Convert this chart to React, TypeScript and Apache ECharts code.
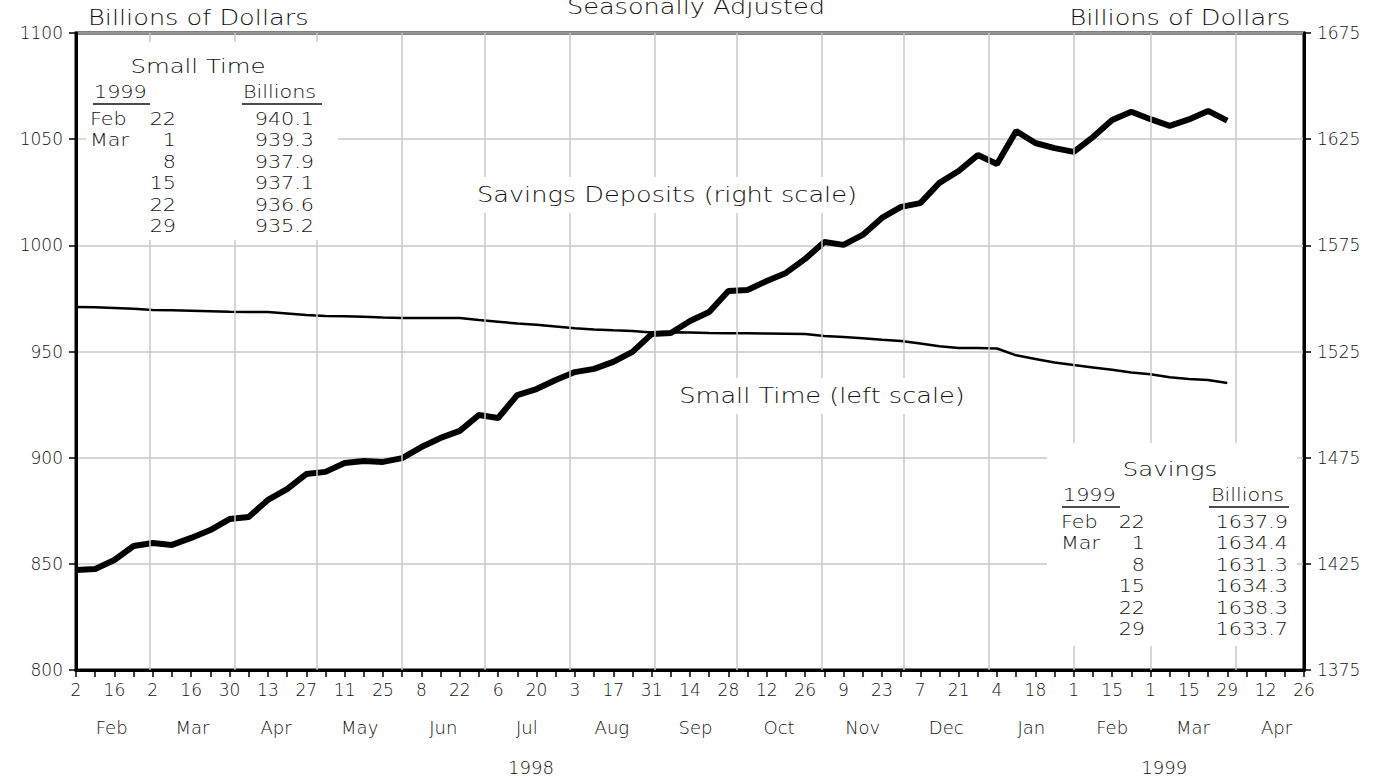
import React, { useEffect, useRef } from "react";
import * as echarts from "echarts";

const START = Date.UTC(1998, 1, 2);
const DAY = 86400000;
const SPAN_DAYS = 448;

// Weekly values, week of Feb 2 1998 through week of Mar 29 1999
const savingsDeposits = [
  1422.1, 1422.6, 1426.8, 1433.4, 1434.8, 1433.9, 1437.2, 1440.9, 1446.1, 1447.1,
  1455.1, 1460.2, 1467.3, 1468.3, 1472.5, 1473.4, 1473.0, 1474.8, 1480.0, 1484.3,
  1487.6, 1495.1, 1493.7, 1504.5, 1507.3, 1511.6, 1515.3, 1516.8, 1520.1, 1524.8,
  1533.2, 1533.7, 1539.4, 1543.6, 1553.5, 1554.0, 1558.2, 1562.0, 1568.6, 1576.6,
  1575.2, 1579.9, 1587.9, 1593.1, 1594.9, 1604.4, 1610.0, 1617.5, 1613.3, 1628.8,
  1623.2, 1620.8, 1619.0, 1626.0, 1634.0, 1637.9, 1634.4, 1631.3, 1634.3, 1638.3,
  1633.7,
];
const smallTime = [
  971.0, 970.8, 970.5, 970.1, 969.5, 969.4, 969.2, 969.0, 968.7, 968.6,
  968.6, 967.9, 967.2, 966.7, 966.6, 966.4, 966.0, 965.8, 965.8, 965.8,
  965.8, 964.8, 964.0, 963.2, 962.6, 961.8, 961.0, 960.4, 960.0, 959.7,
  958.9, 959.1, 958.9, 958.7, 958.6, 958.6, 958.5, 958.4, 958.2, 957.3,
  956.8, 956.2, 955.5, 954.9, 953.8, 952.5, 951.7, 951.7, 951.4, 948.2,
  946.5, 944.8, 943.6, 942.5, 941.4, 940.1, 939.3, 937.9, 937.1, 936.6,
  935.2,
];

const monthNames = ["Feb", "Mar", "Apr", "May", "Jun", "Jul", "Aug", "Sep", "Oct", "Nov", "Dec", "Jan", "Feb", "Mar", "Apr"];
const monthYM: [number, number][] = [
  [1998, 1], [1998, 2], [1998, 3], [1998, 4], [1998, 5], [1998, 6], [1998, 7], [1998, 8],
  [1998, 9], [1998, 10], [1998, 11], [1999, 0], [1999, 1], [1999, 2], [1999, 3], [1999, 4],
];
const yearLabels = ["1998", "1999"];
const yearCenterDays = [166, 397];

const leftTicks = [800, 850, 900, 950, 1000, 1050, 1100];
const rightTicks = [1375, 1425, 1475, 1525, 1575, 1625, 1675];

const tableMonths = ["Feb", "Mar", "", "", "", ""];
const tableDays = ["22", "1", "8", "15", "22", "29"];
const smallTimeTable = ["940.1", "939.3", "937.9", "937.1", "936.6", "935.2"];
const savingsTable = ["1637.9", "1634.4", "1631.3", "1634.3", "1638.3", "1633.7"];

const dayOf = (y: number, m: number) => (Date.UTC(y, m, 1) - START) / DAY;
const monthStarts = monthYM.map(([y, m]) => dayOf(y, m));
const monthMids = monthStarts.slice(0, -1).map((d, i) => (d + monthStarts[i + 1]) / 2);
const gridMonthStarts = monthStarts.filter((d) => d > 0 && d < SPAN_DAYS);

const TICK_FONT = '"DejaVu Sans", sans-serif';
const TEXT_FONT = '"DejaVu Sans", sans-serif';
const TEXT_W = 200;
const INK = "#111";
const GRID = "#c8c8c8";
const WIDE = 1.22;

function nearestIndex(arr: number[], v: number) {
  let best = 0;
  for (let i = 1; i < arr.length; i++) if (Math.abs(arr[i] - v) < Math.abs(arr[best] - v)) best = i;
  return best;
}

function txt(text: string, x: number, y: number, align: string, size: number, sx = WIDE) {
  return {
    type: "text",
    x,
    y,
    z: 60,
    scaleX: sx,
    silent: true,
    style: {
      text,
      fill: INK,
      fontFamily: TEXT_FONT,
      fontWeight: TEXT_W,
      fontSize: size,
      align,
      verticalAlign: "middle",
      textAlign: align,
      textVerticalAlign: "middle",
    },
  };
}
function ul(x1: number, x2: number, y: number) {
  return { type: "line", z: 60, silent: true, shape: { x1, y1: y, x2, y2: y }, style: { stroke: INK, lineWidth: 1.5 } };
}
function box(x: number, y: number, width: number, height: number) {
  return { type: "rect", z: 50, silent: true, shape: { x, y, width, height }, style: { fill: "#fff" } };
}

function buildGraphic() {
  const g: any[] = [];
  g.push(txt("Seasonally Adjusted", 696, 7, "center", 21));
  g.push(txt("Billions of Dollars", 88, 18, "left", 21));
  g.push(txt("Billions of Dollars", 1290, 18, "right", 21));

  // Small time table
  g.push(box(86, 42, 252, 198));
  g.push(txt("Small Time", 198, 66, "center", 20));
  g.push(txt("1999", 94, 92, "left", 18, 1.15));
  g.push(ul(93, 150, 104));
  g.push(txt("Billions", 243, 92, "left", 18, 1.15));
  g.push(ul(242, 322, 104));
  const rows1 = [119, 140, 162, 183, 205, 226];
  rows1.forEach((y, i) => {
    if (tableMonths[i]) g.push(txt(tableMonths[i], 90, y, "left", 18, 1.15));
    g.push(txt(tableDays[i], 176, y, "right", 18, 1.15));
    g.push(txt(smallTimeTable[i], 314, y, "right", 18, 1.15));
  });

  // Savings table
  g.push(box(1047, 443, 250, 203));
  g.push(txt("Savings", 1170, 469, "center", 20));
  g.push(txt("1999", 1063, 495, "left", 18, 1.15));
  g.push(ul(1062, 1120, 507));
  g.push(txt("Billions", 1211, 495, "left", 18, 1.15));
  g.push(ul(1209, 1289, 507));
  const rows2 = [522, 543, 565, 586, 608, 629];
  rows2.forEach((y, i) => {
    if (tableMonths[i]) g.push(txt(tableMonths[i], 1061, y, "left", 18, 1.15));
    g.push(txt(tableDays[i], 1145, y, "right", 18, 1.15));
    g.push(txt(savingsTable[i], 1288, y, "right", 18, 1.15));
  });

  // Series labels
  g.push(box(468, 177, 400, 36));
  g.push(txt("Savings Deposits (right scale)", 667, 195, "center", 21));
  g.push(box(668, 378, 308, 36));
  g.push(txt("Small Time (left scale)", 822, 396, "center", 21));
  return g;
}

export default function App() {
  const ref = useRef<HTMLDivElement>(null);
  useEffect(() => {
    if (!ref.current) return;
    document.body.style.margin = "0";
    const chart = echarts.init(ref.current, undefined, { renderer: "svg" });
    const tickLabel = { color: INK, fontFamily: TICK_FONT, fontWeight: TEXT_W, fontSize: 17 };
    const textLabel = { color: INK, fontFamily: TEXT_FONT, fontWeight: TEXT_W, fontSize: 18 };
    const option: any = {
      animation: false,
      backgroundColor: "#fff",
      grid: {
        left: 76, right: 83, top: 33, bottom: 110,
        show: true, borderColor: "#000", borderWidth: 3, backgroundColor: "transparent",
      },
      tooltip: { show: false },
      xAxis: [
        {
          type: "value", min: 0, max: SPAN_DAYS, interval: 14, position: "bottom",
          axisLine: { show: true, onZero: false, lineStyle: { color: "#000", width: 3 } },
          axisTick: { show: true, inside: false, length: 7, lineStyle: { color: "#000", width: 1.5 } },
          minorTick: { show: true, splitNumber: 2, length: 7, lineStyle: { color: "#000", width: 1.5 } },
          axisLabel: {
            ...tickLabel, margin: 11, showMinLabel: true, showMaxLabel: true,
            formatter: (v: number) => String(new Date(START + Math.round(v) * DAY).getUTCDate()),
          },
          splitLine: { show: false },
          minorSplitLine: { show: false },
        },
        {
          type: "value", min: 0, max: SPAN_DAYS, position: "bottom",
          axisLine: { show: false }, axisTick: { show: false }, splitLine: { show: false },
          axisLabel: {
            ...textLabel, margin: 48, customValues: monthMids,
            formatter: (v: number) => monthNames[nearestIndex(monthMids, v)],
          },
        },
        {
          type: "value", min: 0, max: SPAN_DAYS, position: "bottom",
          axisLine: { show: false }, axisTick: { show: false }, splitLine: { show: false },
          axisLabel: {
            ...textLabel, margin: 88, customValues: yearCenterDays,
            formatter: (v: number) => yearLabels[nearestIndex(yearCenterDays, v)],
          },
        },
      ],
      yAxis: [
        {
          type: "value", position: "left", min: 800, max: 1100, interval: 50,
          axisLine: { show: true, onZero: false, lineStyle: { color: "#000", width: 3 } },
          axisTick: { show: true, length: 7, lineStyle: { color: "#000", width: 1.5 } },
          axisLabel: { ...tickLabel, margin: 13, customValues: leftTicks, formatter: (v: number) => String(v) },
          splitLine: { show: true, lineStyle: { color: GRID, width: 1.5 } },
        },
        {
          type: "value", position: "right", min: 1375, max: 1675,
          axisLine: { show: true, onZero: false, lineStyle: { color: "#000", width: 3 } },
          axisTick: { show: true, length: 7, customValues: rightTicks, lineStyle: { color: "#000", width: 1.5 } },
          axisLabel: { ...tickLabel, margin: 13, customValues: rightTicks, formatter: (v: number) => String(v) },
          splitLine: { show: false },
        },
      ],
      series: [
        {
          name: "monthGrid", type: "line", data: [], z: 1, silent: true,
          markLine: {
            silent: true, symbol: ["none", "none"], label: { show: false },
            lineStyle: { color: GRID, width: 1.5, type: "solid" },
            emphasis: { disabled: true },
            data: gridMonthStarts.map((d) => ({ xAxis: d })),
          },
        },
        {
          name: "Small Time", type: "line", xAxisIndex: 0, yAxisIndex: 0, z: 3,
          symbol: "none", showSymbol: false, silent: true,
          lineStyle: { color: "#000", width: 2.5 },
          emphasis: { disabled: true },
          data: smallTime.map((v, i) => [i * 7, v]),
        },
        {
          name: "Savings Deposits", type: "line", xAxisIndex: 0, yAxisIndex: 1, z: 4,
          symbol: "none", showSymbol: false, silent: true,
          lineStyle: { color: "#000", width: 6 },
          emphasis: { disabled: true },
          data: savingsDeposits.map((v, i) => [i * 7, v]),
        },
      ],
      graphic: buildGraphic(),
    };
    chart.setOption(option);
    return () => chart.dispose();
  }, []);
  return (
    <div style={{ position: "fixed", left: 0, top: 0, width: 1387, height: 780, background: "#fff" }}>
      <div ref={ref} style={{ width: 1387, height: 780 }} />
    </div>
  );
}
